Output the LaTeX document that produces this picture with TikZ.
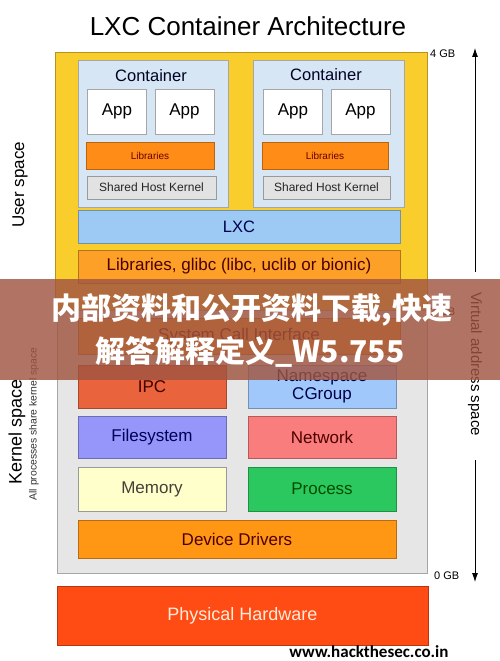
\documentclass[tikz,border=0pt]{standalone}
\usepackage{fontspec}
\setmainfont{Liberation Sans}
\newfontfamily\cjk{Noto Sans CJK SC}
\newfontfamily\carl{Carlito}
\usetikzlibrary{arrows.meta}
\definecolor{uyellow}{RGB}{249,206,44}
\definecolor{cblue}{RGB}{214,230,244}
\definecolor{libor}{RGB}{255,140,22}
\definecolor{shk}{RGB}{226,226,226}
\definecolor{lxcb}{RGB}{157,201,245}
\definecolor{glibc}{RGB}{252,160,40}
\definecolor{kgrey}{RGB}{230,230,230}
\definecolor{ipcc}{RGB}{233,100,60}
\definecolor{nsc}{RGB}{160,200,250}
\definecolor{fsc}{RGB}{150,150,250}
\definecolor{netc}{RGB}{250,125,125}
\definecolor{memc}{RGB}{255,255,204}
\definecolor{procc}{RGB}{43,200,95}
\definecolor{ddc}{RGB}{255,150,20}
\definecolor{hwc}{RGB}{255,75,20}
\definecolor{bannerc}{RGB}{160,85,65}
\tikzset{
  blk/.style={draw=#1!72!black, fill=#1, line width=0.6pt, inner sep=0pt, outer sep=0pt},
  fs/.style={font=\fontsize{#1}{#1}\selectfont},
  arr/.style={-{Latex[length=9pt,width=6pt]}, line width=0.8pt}
}
\begin{document}
\begin{tikzpicture}[x=1pt,y=-1pt]
\useasboundingbox (0,0) rectangle (500,661);
\fill[white] (0,0) rectangle (500,661);
% title
\node[fs=26] (title) at (248,26) {LXC Container Architecture};
% user space
\node[blk=uyellow, minimum width=372pt, minimum height=258pt] (user) at (241,181) {};
\node[blk=kgrey, draw=black!35, minimum width=370pt, minimum height=263pt] (kern) at (242,441.5) {};
% containers
\node[blk=cblue, draw=black!35, minimum width=150pt, minimum height=147pt] (c1) at (153,133.5) {};
\node[blk=cblue, draw=black!35, minimum width=151pt, minimum height=147pt] (c2) at (328.5,133.5) {};
\node[fs=16.5, text=black!85!blue] (c1t) at (151,76) {Container};
\node[fs=16.5, text=black!85!blue] (c2t) at (326,75) {Container};
\foreach \n/\x in {a11/117, a12/184.5, a21/293, a22/360.5}{
  \node[blk=white, draw=black!35, minimum width=59pt, minimum height=45pt, fs=17] (\n) at (\x,111.5) {App};
}
\node[blk=libor, minimum width=128pt, minimum height=27pt, fs=10, text=black!60!red] (l1) at (150,155.5) {Libraries};
\node[blk=libor, minimum width=126pt, minimum height=27pt, fs=10, text=black!60!red] (l2) at (325,155.5) {Libraries};
\node[blk=shk, draw=black!40, minimum width=129pt, minimum height=23pt, fs=12, text=black!85] (k1) at (151.5,187.5) {Shared Host Kernel};
\node[blk=shk, draw=black!40, minimum width=127pt, minimum height=23pt, fs=12, text=black!85] (k2) at (326.5,187.5) {Shared Host Kernel};
% LXC and libs
\node[blk=lxcb, minimum width=322pt, minimum height=33pt, fs=16.5, text=black!70!blue] (lxc) at (239,226.5) {LXC};
\node[blk=glibc, minimum width=322pt, minimum height=33pt, fs=17, text=black!70!red] (glibc) at (239,266.5) {Libraries, glibc (libc, uclib or bionic)};
% kernel
\node[blk=glibc, minimum width=322pt, minimum height=36pt, fs=17, text=black!70!red] (sci) at (239,336) {System Call Interface};
\node[blk=ipcc, minimum width=148pt, minimum height=43pt, fs=17, text=black!75!red] (ipc) at (152,386.5) {IPC};
\node[blk=nsc, minimum width=148pt, minimum height=43pt, fs=17, text=black!70!blue, align=center] (ns) at (322,386.5) {Namespace\\[1pt]CGroup};
\node[blk=fsc, minimum width=148pt, minimum height=42pt, fs=17, text=black!65!blue] (fsys) at (152,437) {Filesystem};
\node[blk=netc, minimum width=148pt, minimum height=42pt, fs=17, text=black!70!red] (net) at (322,437) {Network};
\node[blk=memc, draw=black!40, minimum width=148pt, minimum height=44pt, fs=17, text=black!85!yellow] (mem) at (152,489) {Memory};
\node[blk=procc, minimum width=148pt, minimum height=44pt, fs=17, text=black!70!green] (proc) at (322,489) {Process};
\node[blk=ddc, minimum width=318pt, minimum height=38pt, fs=17, text=black!70!red] (dd) at (237,539) {Device Drivers};
% hardware
\node[blk=hwc, minimum width=371pt, minimum height=59pt, fs=18, text=orange!15!white] (hw) at (242.5,615.5) {Physical Hardware};
% side labels
\node[fs=11, anchor=west, inner sep=0pt] (g4) at (430,54) {4 GB};
\node[fs=11, anchor=west, inner sep=0pt] (g3) at (430,312) {3 GB};
\node[fs=11, anchor=west, inner sep=0pt] (g0) at (434,576) {0 GB};
\node[fs=17, rotate=90] (ul) at (20,185) {User space};
\node[fs=18, rotate=90] (kl) at (17,432) {Kernel space};
\node[fs=10.4, rotate=90, text=black!80] (al) at (34,424) {All processes share kernel space};
\node[fs=15, rotate=-90, inner sep=0pt] (vas) at (475,364) {Virtual address space};
\coordinate (vtop) at (475,48);
\coordinate (vbot) at (475,582);
\draw[arr, shorten <=20pt] (vas.west) -- (vtop);
\draw[arr, shorten <=24pt] (vas.east) -- (vbot);
% website
\node[font=\carl\bfseries\fontsize{17}{18}\selectfont, anchor=base, inner sep=0pt] (www) at (369,657) {www.hackthesec.co.in};
% banner overlay
\fill[bannerc, opacity=0.82] (0,279) rectangle (500,380);
\node[text=white, font=\cjk\bfseries\fontsize{30}{34}\selectfont] (b1) at (252,310) {内部资料和公开资料下载,快速};
\node[text=white, font=\cjk\bfseries\fontsize{30}{34}\selectfont] (b2) at (250,352) {解答解释定义\_W5.755};
\end{tikzpicture}
\end{document}
